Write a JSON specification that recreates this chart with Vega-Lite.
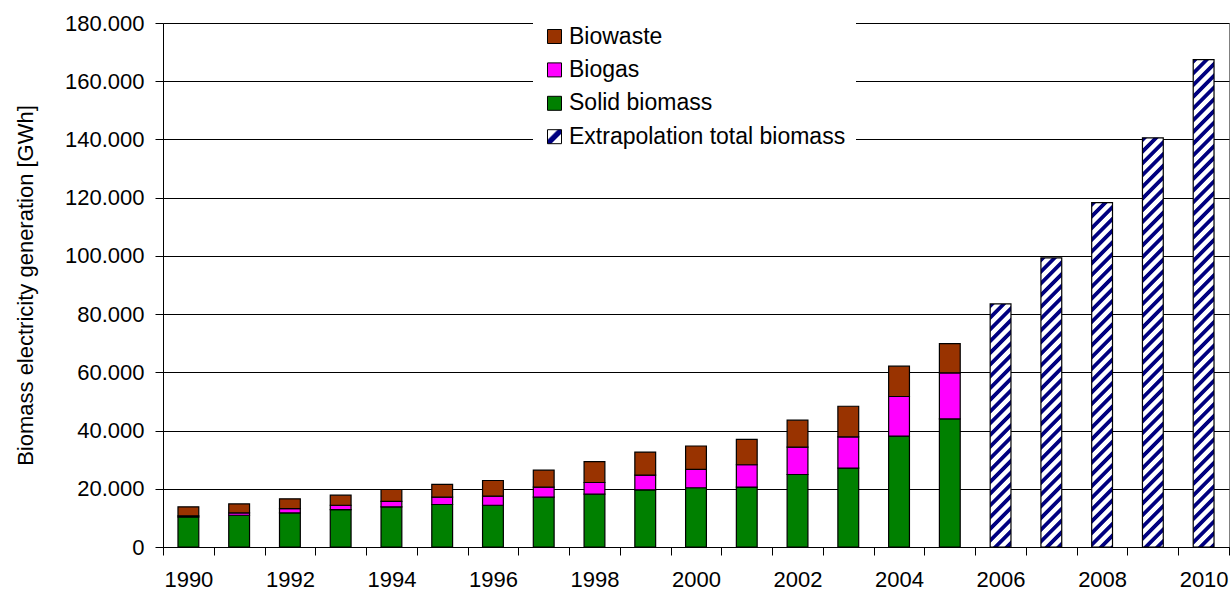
{
  "$schema": "https://vega.github.io/schema/vega-lite/v6.json",
  "width": 1066,
  "height": 524,
  "autosize": {"type": "none"},
  "padding": {"left": 163, "top": 23, "right": 1, "bottom": 45},
  "config": {
    "font": "Liberation Sans",
    "view": {"stroke": "#808080", "strokeWidth": 1}
  },
  "params": [
    {
      "name": "stripes",
      "value": [
        {"offset":0,"color":"navy"},{"offset":0.008,"color":"navy"},{"offset":0.0105,"color":"white"},{"offset":0.0205,"color":"white"},
        {"offset":0.023,"color":"navy"},{"offset":0.031,"color":"navy"},{"offset":0.0335,"color":"white"},{"offset":0.0435,"color":"white"},
        {"offset":0.046,"color":"navy"},{"offset":0.054,"color":"navy"},{"offset":0.0565,"color":"white"},{"offset":0.0665,"color":"white"},
        {"offset":0.069,"color":"navy"},{"offset":0.077,"color":"navy"},{"offset":0.0795,"color":"white"},{"offset":0.0895,"color":"white"},
        {"offset":0.092,"color":"navy"},{"offset":0.1,"color":"navy"},{"offset":0.1025,"color":"white"},{"offset":0.1125,"color":"white"},
        {"offset":0.115,"color":"navy"},{"offset":0.123,"color":"navy"},{"offset":0.1255,"color":"white"},{"offset":0.1355,"color":"white"},
        {"offset":0.138,"color":"navy"},{"offset":0.146,"color":"navy"},{"offset":0.1485,"color":"white"},{"offset":0.1585,"color":"white"},
        {"offset":0.161,"color":"navy"},{"offset":0.169,"color":"navy"},{"offset":0.1715,"color":"white"},{"offset":0.1815,"color":"white"},
        {"offset":0.184,"color":"navy"},{"offset":0.192,"color":"navy"},{"offset":0.1945,"color":"white"},{"offset":0.2045,"color":"white"},
        {"offset":0.207,"color":"navy"},{"offset":0.215,"color":"navy"},{"offset":0.2175,"color":"white"},{"offset":0.2275,"color":"white"},
        {"offset":0.23,"color":"navy"},{"offset":0.238,"color":"navy"},{"offset":0.2405,"color":"white"},{"offset":0.2505,"color":"white"},
        {"offset":0.253,"color":"navy"},{"offset":0.261,"color":"navy"},{"offset":0.2635,"color":"white"},{"offset":0.2735,"color":"white"},
        {"offset":0.276,"color":"navy"},{"offset":0.284,"color":"navy"},{"offset":0.2865,"color":"white"},{"offset":0.2965,"color":"white"},
        {"offset":0.299,"color":"navy"},{"offset":0.307,"color":"navy"},{"offset":0.3095,"color":"white"},{"offset":0.3195,"color":"white"},
        {"offset":0.322,"color":"navy"},{"offset":0.33,"color":"navy"},{"offset":0.3325,"color":"white"},{"offset":0.3425,"color":"white"},
        {"offset":0.345,"color":"navy"},{"offset":0.353,"color":"navy"},{"offset":0.3555,"color":"white"},{"offset":0.3655,"color":"white"},
        {"offset":0.368,"color":"navy"},{"offset":0.376,"color":"navy"},{"offset":0.3785,"color":"white"},{"offset":0.3885,"color":"white"},
        {"offset":0.391,"color":"navy"},{"offset":0.399,"color":"navy"},{"offset":0.4015,"color":"white"},{"offset":0.4115,"color":"white"},
        {"offset":0.414,"color":"navy"},{"offset":0.422,"color":"navy"},{"offset":0.4245,"color":"white"},{"offset":0.4345,"color":"white"},
        {"offset":0.437,"color":"navy"},{"offset":0.445,"color":"navy"},{"offset":0.4475,"color":"white"},{"offset":0.4575,"color":"white"},
        {"offset":0.46,"color":"navy"},{"offset":0.468,"color":"navy"},{"offset":0.4705,"color":"white"},{"offset":0.4805,"color":"white"},
        {"offset":0.483,"color":"navy"},{"offset":0.491,"color":"navy"},{"offset":0.4935,"color":"white"},{"offset":0.5035,"color":"white"},
        {"offset":0.506,"color":"navy"},{"offset":0.514,"color":"navy"},{"offset":0.5165,"color":"white"},{"offset":0.5265,"color":"white"},
        {"offset":0.529,"color":"navy"},{"offset":0.537,"color":"navy"},{"offset":0.5395,"color":"white"},{"offset":0.5495,"color":"white"},
        {"offset":0.552,"color":"navy"},{"offset":0.56,"color":"navy"},{"offset":0.5625,"color":"white"},{"offset":0.5725,"color":"white"},
        {"offset":0.575,"color":"navy"},{"offset":0.583,"color":"navy"},{"offset":0.5855,"color":"white"},{"offset":0.5955,"color":"white"},
        {"offset":0.598,"color":"navy"},{"offset":0.606,"color":"navy"},{"offset":0.6085,"color":"white"},{"offset":0.6185,"color":"white"},
        {"offset":0.621,"color":"navy"},{"offset":0.629,"color":"navy"},{"offset":0.6315,"color":"white"},{"offset":0.6415,"color":"white"},
        {"offset":0.644,"color":"navy"},{"offset":0.652,"color":"navy"},{"offset":0.6545,"color":"white"},{"offset":0.6645,"color":"white"},
        {"offset":0.667,"color":"navy"},{"offset":0.675,"color":"navy"},{"offset":0.6775,"color":"white"},{"offset":0.6875,"color":"white"},
        {"offset":0.69,"color":"navy"},{"offset":0.698,"color":"navy"},{"offset":0.7005,"color":"white"},{"offset":0.7105,"color":"white"},
        {"offset":0.713,"color":"navy"},{"offset":0.721,"color":"navy"},{"offset":0.7235,"color":"white"},{"offset":0.7335,"color":"white"},
        {"offset":0.736,"color":"navy"},{"offset":0.744,"color":"navy"},{"offset":0.7465,"color":"white"},{"offset":0.7565,"color":"white"},
        {"offset":0.759,"color":"navy"},{"offset":0.767,"color":"navy"},{"offset":0.7695,"color":"white"},{"offset":0.7795,"color":"white"},
        {"offset":0.782,"color":"navy"},{"offset":0.79,"color":"navy"},{"offset":0.7925,"color":"white"},{"offset":0.8025,"color":"white"},
        {"offset":0.805,"color":"navy"},{"offset":0.813,"color":"navy"},{"offset":0.8155,"color":"white"},{"offset":0.8255,"color":"white"},
        {"offset":0.828,"color":"navy"},{"offset":0.836,"color":"navy"},{"offset":0.8385,"color":"white"},{"offset":0.8485,"color":"white"},
        {"offset":0.851,"color":"navy"},{"offset":0.859,"color":"navy"},{"offset":0.8615,"color":"white"},{"offset":0.8715,"color":"white"},
        {"offset":0.874,"color":"navy"},{"offset":0.882,"color":"navy"},{"offset":0.8845,"color":"white"},{"offset":0.8945,"color":"white"},
        {"offset":0.897,"color":"navy"},{"offset":0.905,"color":"navy"},{"offset":0.9075,"color":"white"},{"offset":0.9175,"color":"white"},
        {"offset":0.92,"color":"navy"},{"offset":0.928,"color":"navy"},{"offset":0.9305,"color":"white"},{"offset":0.9405,"color":"white"},
        {"offset":0.943,"color":"navy"},{"offset":0.951,"color":"navy"},{"offset":0.9535,"color":"white"},{"offset":0.9635,"color":"white"},
        {"offset":0.966,"color":"navy"},{"offset":0.974,"color":"navy"},{"offset":0.9765,"color":"white"},{"offset":0.9865,"color":"white"},
        {"offset":0.989,"color":"navy"},{"offset":1,"color":"navy"}
      ]
    }
  ],
  "data": {
    "values": [
      {"year": 1990, "category": "Solid biomass", "value": 10300},
      {"year": 1990, "category": "Biogas", "value": 400},
      {"year": 1990, "category": "Biowaste", "value": 3100},
      {"year": 1991, "category": "Solid biomass", "value": 10900},
      {"year": 1991, "category": "Biogas", "value": 800},
      {"year": 1991, "category": "Biowaste", "value": 3100},
      {"year": 1992, "category": "Solid biomass", "value": 11700},
      {"year": 1992, "category": "Biogas", "value": 1500},
      {"year": 1992, "category": "Biowaste", "value": 3350},
      {"year": 1993, "category": "Solid biomass", "value": 12850},
      {"year": 1993, "category": "Biogas", "value": 1500},
      {"year": 1993, "category": "Biowaste", "value": 3450},
      {"year": 1994, "category": "Solid biomass", "value": 13800},
      {"year": 1994, "category": "Biogas", "value": 1900},
      {"year": 1994, "category": "Biowaste", "value": 4050},
      {"year": 1995, "category": "Solid biomass", "value": 14600},
      {"year": 1995, "category": "Biogas", "value": 2500},
      {"year": 1995, "category": "Biowaste", "value": 4400},
      {"year": 1996, "category": "Solid biomass", "value": 14350},
      {"year": 1996, "category": "Biogas", "value": 3100},
      {"year": 1996, "category": "Biowaste", "value": 5400},
      {"year": 1997, "category": "Solid biomass", "value": 17100},
      {"year": 1997, "category": "Biogas", "value": 3450},
      {"year": 1997, "category": "Biowaste", "value": 5850},
      {"year": 1998, "category": "Solid biomass", "value": 18150},
      {"year": 1998, "category": "Biogas", "value": 4000},
      {"year": 1998, "category": "Biowaste", "value": 7150},
      {"year": 1999, "category": "Solid biomass", "value": 19650},
      {"year": 1999, "category": "Biogas", "value": 5050},
      {"year": 1999, "category": "Biowaste", "value": 7900},
      {"year": 2000, "category": "Solid biomass", "value": 20350},
      {"year": 2000, "category": "Biogas", "value": 6300},
      {"year": 2000, "category": "Biowaste", "value": 8050},
      {"year": 2001, "category": "Solid biomass", "value": 20600},
      {"year": 2001, "category": "Biogas", "value": 7650},
      {"year": 2001, "category": "Biowaste", "value": 8700},
      {"year": 2002, "category": "Solid biomass", "value": 24900},
      {"year": 2002, "category": "Biogas", "value": 9400},
      {"year": 2002, "category": "Biowaste", "value": 9250},
      {"year": 2003, "category": "Solid biomass", "value": 27100},
      {"year": 2003, "category": "Biogas", "value": 10750},
      {"year": 2003, "category": "Biowaste", "value": 10500},
      {"year": 2004, "category": "Solid biomass", "value": 38100},
      {"year": 2004, "category": "Biogas", "value": 13600},
      {"year": 2004, "category": "Biowaste", "value": 10400},
      {"year": 2005, "category": "Solid biomass", "value": 44000},
      {"year": 2005, "category": "Biogas", "value": 15800},
      {"year": 2005, "category": "Biowaste", "value": 10050},
      {"year": 2006, "category": "Extrapolation total biomass", "value": 83500},
      {"year": 2007, "category": "Extrapolation total biomass", "value": 99300},
      {"year": 2008, "category": "Extrapolation total biomass", "value": 118300},
      {"year": 2009, "category": "Extrapolation total biomass", "value": 140550},
      {"year": 2010, "category": "Extrapolation total biomass", "value": 167450}
    ]
  },
  "encoding": {
    "x": {
      "field": "year",
      "type": "ordinal",
      "scale": {"paddingInner": 0, "paddingOuter": 0},
      "axis": {
        "title": null,
        "tickBand": "extent",
        "labelAngle": 0,
        "labelExpr": "datum.value % 2 == 0 ? datum.label : ''",
        "labelFontSize": 22,
        "labelColor": "black",
        "labelPadding": 14,
        "labelOverlap": false,
        "tickSize": 8,
        "tickColor": "black",
        "domainColor": "black",
        "grid": false
      }
    }
  },
  "layer": [
    {
      "transform": [
        {"filter": "datum.category != 'Extrapolation total biomass'"},
        {"window": [{"op": "row_number", "as": "stackorder"}], "groupby": ["year"]}
      ],
      "mark": {"type": "bar", "width": {"band": 0.41}, "stroke": "black", "strokeWidth": 1.2},
      "encoding": {
        "y": {
          "field": "value",
          "type": "quantitative",
          "stack": "zero",
          "scale": {"domain": [0, 180000]},
          "axis": {
            "values": [0, 20000, 40000, 60000, 80000, 100000, 120000, 140000, 160000, 180000],
            "labelExpr": "replace(format(datum.value, ','), ',', '.')",
            "title": "Biomass electricity generation [GWh]",
            "grid": true,
            "gridColor": "black",
            "gridWidth": 1,
            "tickSize": 8,
            "tickColor": "black",
            "domainColor": "black",
            "labelPadding": 11,
            "labelFontSize": 22,
            "labelColor": "black",
            "titleFontSize": 22,
            "titleFontWeight": "normal",
            "titleColor": "black",
            "titlePadding": 27
          }
        },
        "color": {
          "field": "category",
          "type": "nominal",
          "scale": {
            "domain": ["Biowaste", "Biogas", "Solid biomass", "Extrapolation total biomass"],
            "range": [
              "#993300",
              "#FF00FF",
              "#008000",
              {"expr": "{gradient: 'linear', x1: 0, y1: 0, x2: 1, y2: 1, stops: [{offset: 0, color: 'white'}, {offset: 0.33, color: 'white'}, {offset: 0.4, color: 'navy'}, {offset: 0.6, color: 'navy'}, {offset: 0.67, color: 'white'}, {offset: 1, color: 'white'}]}"}
            ]
          },
          "legend": {
            "title": null,
            "orient": "none",
            "legendX": 370,
            "legendY": -8,
            "padding": 10,
            "fillColor": "white",
            "labelFontSize": 23,
            "labelColor": "black",
            "labelLimit": 400,
            "symbolType": "square",
            "symbolSize": 196,
            "symbolStrokeColor": "black",
            "symbolStrokeWidth": 1,
            "rowPadding": 9.4,
            "labelOffset": 3
          }
        },
        "order": {"field": "stackorder", "type": "quantitative", "sort": "ascending"}
      }
    },
    {
      "transform": [
        {"filter": "datum.category == 'Extrapolation total biomass'"}
      ],
      "mark": {
        "type": "bar",
        "width": {"band": 0.41},
        "stroke": "black",
        "strokeWidth": 1.2,
        "fill": {"expr": "{gradient: 'linear', x1: 0, y1: 0, x2: 510 * 21 / (441 + pow(datum.value * 524 / 180000, 2)), y2: 510 * (datum.value * 524 / 180000) / (441 + pow(datum.value * 524 / 180000, 2)), stops: stripes}"}
      },
      "encoding": {
        "y": {"field": "value", "type": "quantitative"}
      }
    }
  ]
}
